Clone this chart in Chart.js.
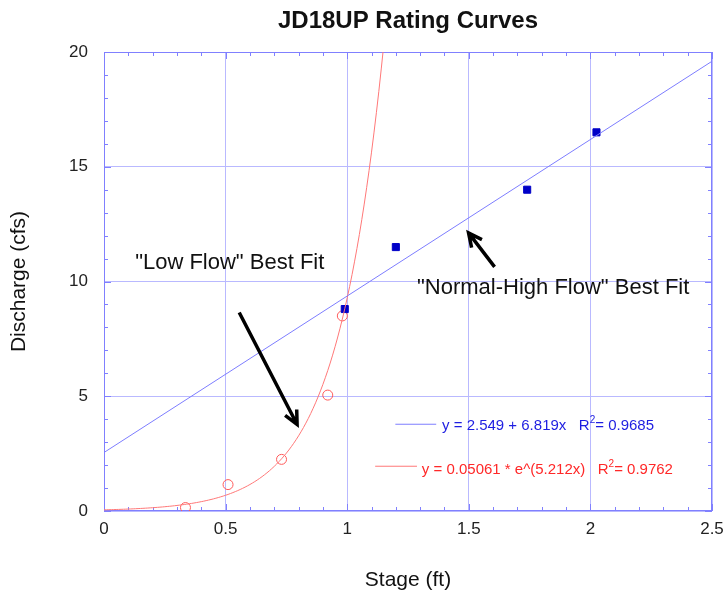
<!DOCTYPE html>
<html>
<head>
<meta charset="utf-8">
<script src="https://cdn.jsdelivr.net/npm/chart.js@4.4.1/dist/chart.umd.min.js"></script>
<style>
html, body { margin: 0; padding: 0; background: #fff; }
</style>
</head>
<body>
<canvas id="myChart" width="723" height="593"></canvas>
<script>
var stageNormal = [0.99, 1.20, 1.74, 2.025]
var flowNormal = [8.8, 11.5, 14.0, 16.5]
var stageLow = [0.335, 0.51, 0.73, 0.92, 0.98]
var flowLow = [0.15, 1.15, 2.25, 5.05, 8.5]

// fit coefficients as printed in the legend
var linFit = [2.549, 6.819]    // y = a + b*x
var expFit = [0.05061, 5.212]  // y = a * e^(b*x)
var linR2 = '0.9685'
var expR2 = '0.9762'

// axes
var xRange = [0, 2.5]
var yRange = [0, 20]
var xStep = 0.5, yStep = 5
var xMinor = 0.1, yMinor = 1

var fam = '"Liberation Sans", Arial, Helvetica, sans-serif'
var frameColor = '#8080ff'
var blueLine = 'rgb(125,125,255)'
var redLine = 'rgb(255,120,120)'

function toXY(xs, ys) {
    return xs.map(function (x, i) { return { x: x, y: ys[i] } })
}

// fit lines
var linPts = [
    { x: xRange[0], y: linFit[0] + linFit[1] * xRange[0] },
    { x: xRange[1], y: linFit[0] + linFit[1] * xRange[1] }
]
var xTop = Math.log(yRange[1] / expFit[0]) / expFit[1]
var expPts = []
for (var s = 0; s < xTop; s += 0.01) {
    expPts.push({ x: s, y: expFit[0] * Math.exp(expFit[1] * s) })
}
expPts.push({ x: xTop, y: yRange[1] })

function arrow(ctx, x1, y1, x2, y2) {
    var ang = Math.atan2(y2 - y1, x2 - x1), hl = 15, spread = 0.45
    ctx.beginPath()
    ctx.moveTo(x1, y1)
    ctx.lineTo(x2, y2)
    ctx.moveTo(x2 - hl * Math.cos(ang - spread), y2 - hl * Math.sin(ang - spread))
    ctx.lineTo(x2, y2)
    ctx.lineTo(x2 - hl * Math.cos(ang + spread), y2 - hl * Math.sin(ang + spread))
    ctx.stroke()
}

function fitLabel(ctx, x, y, pre, r2, color) {
    ctx.fillStyle = color
    ctx.font = '15px ' + fam
    ctx.fillText(pre + '   R', x, y)
    var w = ctx.measureText(pre + '   R').width
    ctx.font = '10px ' + fam
    ctx.fillText('2', x + w, y - 6)
    var w2 = ctx.measureText('2').width
    ctx.font = '15px ' + fam
    ctx.fillText('= ' + r2, x + w + w2, y)
}

var frame = {
    id: 'frame',
    beforeDatasetsDraw: function (chart) {
        var ctx = chart.ctx, a = chart.chartArea, xs = chart.scales.x, ys = chart.scales.y
        ctx.save()
        ctx.strokeStyle = frameColor
        ctx.lineWidth = 1
        ctx.beginPath()
        var nx = Math.round((xRange[1] - xRange[0]) / xMinor)
        for (var i = 0; i <= nx; i++) {
            var px = Math.round(xs.getPixelForValue(xRange[0] + i * xMinor)) + 0.5
            var len = i % 5 === 0 ? 7 : 4
            ctx.moveTo(px, a.bottom); ctx.lineTo(px, a.bottom - len)
            ctx.moveTo(px, a.top); ctx.lineTo(px, a.top + len)
        }
        var ny = Math.round((yRange[1] - yRange[0]) / yMinor)
        for (var j = 0; j <= ny; j++) {
            var py = Math.round(ys.getPixelForValue(yRange[0] + j * yMinor)) + 0.5
            var len2 = j % 5 === 0 ? 7 : 4
            ctx.moveTo(a.left, py); ctx.lineTo(a.left + len2, py)
            ctx.moveTo(a.right, py); ctx.lineTo(a.right - len2, py)
        }
        ctx.stroke()
        ctx.strokeRect(a.left + 0.5, a.top + 0.5, a.right - a.left - 1, a.bottom - a.top - 1)
        ctx.restore()
    },
    afterDatasetsDraw: function (chart) {
        var ctx = chart.ctx, xs = chart.scales.x, ys = chart.scales.y
        function X(v) { return xs.getPixelForValue(v) }
        function Y(v) { return ys.getPixelForValue(v) }
        ctx.save()
        // arrows
        ctx.strokeStyle = '#000'
        ctx.lineWidth = 3.5
        ctx.lineJoin = 'miter'
        arrow(ctx, X(0.556), Y(8.65), X(0.794), Y(3.77))
        arrow(ctx, X(1.606), Y(10.64), X(1.499), Y(12.12))
        // annotation text
        ctx.fillStyle = '#111'
        ctx.font = '22px ' + fam
        ctx.textAlign = 'left'
        ctx.textBaseline = 'middle'
        ctx.fillText('"Low Flow" Best Fit', X(0.128), Y(10.83))
        ctx.fillText('"Normal-High Flow" Best Fit', X(1.287), Y(9.73))
        // fit legend
        ctx.lineWidth = 1
        ctx.strokeStyle = blueLine
        ctx.beginPath(); ctx.moveTo(X(1.198), Y(3.78)); ctx.lineTo(X(1.366), Y(3.78)); ctx.stroke()
        ctx.strokeStyle = redLine
        ctx.beginPath(); ctx.moveTo(X(1.115), Y(1.95)); ctx.lineTo(X(1.287), Y(1.95)); ctx.stroke()
        fitLabel(ctx, X(1.39), Y(3.69), 'y = ' + linFit[0] + ' + ' + linFit[1] + 'x', linR2, 'rgb(30,30,225)')
        fitLabel(ctx, X(1.307), Y(1.78), 'y = ' + expFit[0] + ' * e^(' + expFit[1] + 'x)', expR2, 'rgb(255,40,40)')
        ctx.restore()
    }
}

Chart.defaults.font.family = fam
Chart.defaults.color = '#222'

var ctx = document.getElementById('myChart')

var myChart = new Chart(ctx, {
    type: 'scatter',
    data: {
        datasets: [
            {
                label: 'Normal-High Flow fit',
                data: linPts,
                showLine: true,
                borderColor: blueLine,
                borderWidth: 1,
                pointRadius: 0
            },
            {
                label: 'Low Flow fit',
                data: expPts,
                showLine: true,
                borderColor: redLine,
                borderWidth: 1,
                pointRadius: 0
            },
            {
                label: 'Normal-High Flow',
                data: toXY(stageNormal, flowNormal),
                pointStyle: 'rect',
                pointRadius: 5,
                backgroundColor: '#0000c8',
                borderColor: '#0000c8',
                borderWidth: 1
            },
            {
                label: 'Low Flow',
                data: toXY(stageLow, flowLow),
                pointStyle: 'circle',
                pointRadius: 5,
                backgroundColor: 'rgba(0,0,0,0)',
                borderColor: 'rgb(255,90,90)',
                borderWidth: 1
            }
        ]
    },
    options: {
        responsive: false,
        animation: false,
        layout: { padding: { left: 0, right: 11, top: 0, bottom: 0 } },
        plugins: {
            legend: { display: false },
            tooltip: { enabled: false },
            title: {
                display: true,
                text: 'JD18UP Rating Curves',
                fullSize: false,
                color: '#111',
                font: { size: 24, weight: 'bold' },
                padding: { top: 7, bottom: 16.2 }
            }
        },
        scales: {
            x: {
                type: 'linear',
                min: xRange[0],
                max: xRange[1],
                afterFit: function (scale) {
                    scale.height = 82
                    scale.paddingLeft = 0
                    scale.paddingRight = 0
                },
                ticks: {
                    stepSize: xStep, padding: 8, font: { size: 17 }, maxRotation: 0,
                    callback: function (v) { return String(Number(v.toFixed(2))) }
                },
                grid: { color: 'rgb(185,185,255)', drawTicks: false },
                border: { display: false },
                title: { display: true, text: 'Stage (ft)', color: '#111', font: { size: 21 }, padding: { top: 0, bottom: 0 } }
            },
            y: {
                type: 'linear',
                min: yRange[0],
                max: yRange[1],
                afterFit: function (scale) {
                    scale.width = 104
                    scale.paddingTop = 0
                    scale.paddingBottom = 0
                },
                ticks: { stepSize: yStep, padding: 16, font: { size: 17 } },
                grid: { color: 'rgb(185,185,255)', drawTicks: false },
                border: { display: false },
                title: { display: true, text: 'Discharge (cfs)', color: '#111', font: { size: 21 }, padding: { top: 7, bottom: 0 } }
            }
        }
    },
    plugins: [frame]
})
</script>
</body>
</html>
